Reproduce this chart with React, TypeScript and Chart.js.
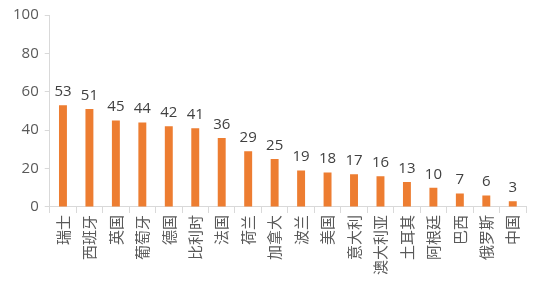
import React, { useEffect, useRef } from "react";
import { Chart, registerables } from "chart.js";

Chart.register(...registerables);

const categories = ["瑞士", "西班牙", "英国", "葡萄牙", "德国", "比利时", "法国", "荷兰", "加拿大", "波兰", "美国", "意大利", "澳大利亚", "土耳其", "阿根廷", "巴西", "俄罗斯", "中国"];
const values = [53, 51, 45, 44, 42, 41, 36, 29, 25, 19, 18, 17, 16, 13, 10, 7, 6, 3];
const yTicks = [0, 20, 40, 60, 80, 100];

const FONT = "'Microsoft YaHei', 'Noto Sans CJK SC', sans-serif";
const NUMFONT = "'Open Sans', 'Noto Sans', sans-serif";

const labelPlugin = {
  id: "valueLabels",
  afterDatasetsDraw(chart: any) {
    const ctx = chart.ctx;
    const meta = chart.getDatasetMeta(0);
    ctx.save();
    ctx.fillStyle = "#404040";
    ctx.font = `15px ${NUMFONT}`;
    ctx.textAlign = "center";
    ctx.textBaseline = "bottom";
    meta.data.forEach((bar: any, i: number) => {
      ctx.fillText(String(values[i]), bar.x, bar.y - 6);
    });
    ctx.restore();
  },
};

export default function App() {
  const ref = useRef<HTMLCanvasElement>(null);
  useEffect(() => {
    document.body.style.margin = "0";
    const chart = new Chart(ref.current!, {
      type: "bar",
      data: {
        labels: categories,
        datasets: [
          {
            data: values,
            backgroundColor: "#ED7D31",
            barPercentage: 0.6,
            categoryPercentage: 0.5,
          },
        ],
      },
      options: {
        animation: false,
        responsive: false,
        layout: { padding: { left: 7, right: 14, top: 8, bottom: 4 } },
        plugins: { legend: { display: false }, tooltip: { enabled: false } },
        scales: {
          x: {
            grid: { offset: true, drawOnChartArea: false, drawTicks: true, tickLength: 6, color: "#D9D9D9" },
            border: { color: "#D9D9D9" },
            ticks: {
              color: "#595959",
              font: { family: FONT, size: 15 },
              maxRotation: 90,
              minRotation: 90,
              autoSkip: false,
              padding: 2,
            },
          },
          y: {
            min: 0,
            max: 100,
            afterBuildTicks: (axis: any) => {
              axis.ticks = yTicks.map((v) => ({ value: v }));
            },
            grid: { drawOnChartArea: false, drawTicks: true, tickLength: 5, color: "#D9D9D9" },
            border: { color: "#D9D9D9" },
            ticks: { color: "#595959", font: { family: NUMFONT, size: 15 }, padding: 6 },
          },
        },
      },
      plugins: [labelPlugin],
    });
    return () => chart.destroy();
  }, []);
  return (
    <div style={{ width: 540, height: 281 }}>
      <canvas ref={ref} width={540} height={281} />
    </div>
  );
}
